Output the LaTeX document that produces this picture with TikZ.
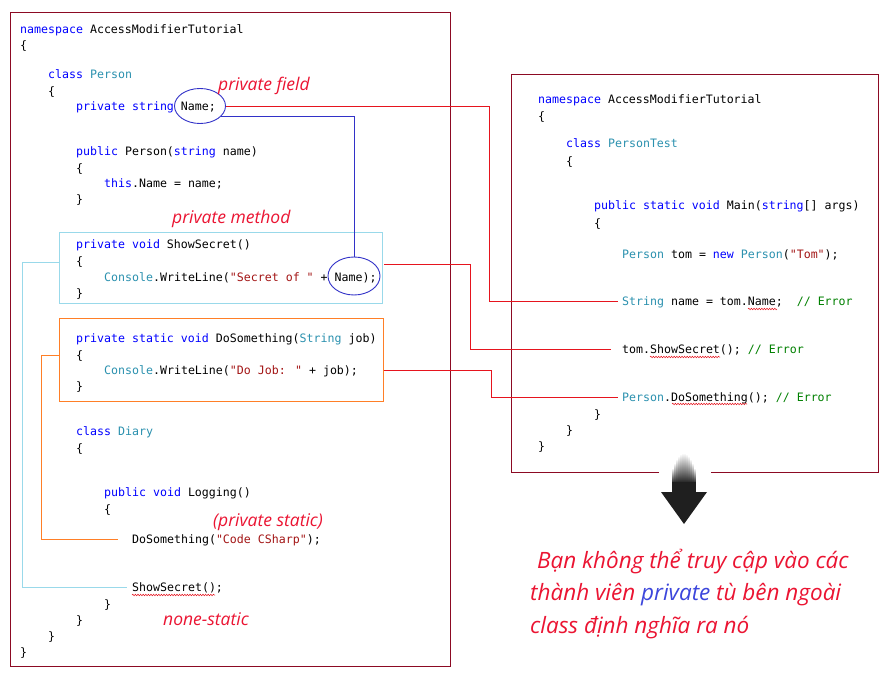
\documentclass[tikz,border=0pt]{standalone}
\usepackage{fontspec}
\usetikzlibrary{shapes.geometric,decorations.pathmorphing,calc}
\newfontfamily\codefont{DejaVu Sans Mono}
\newfontfamily\handfont{Open Sans}
\definecolor{framered}{RGB}{140,10,35}
\definecolor{linered}{RGB}{230,20,30}
\definecolor{eblue}{RGB}{50,50,200}
\definecolor{cyanbox}{RGB}{153,217,234}
\definecolor{orangebox}{RGB}{255,127,39}
\definecolor{annred}{RGB}{235,20,50}
\definecolor{pblue}{RGB}{60,70,220}
\definecolor{kwblue}{RGB}{0,0,255}
\definecolor{tyteal}{RGB}{43,145,175}
\definecolor{strred}{RGB}{163,21,21}
\definecolor{comgreen}{RGB}{0,128,0}
\newcommand\ckw[1]{\textcolor{kwblue}{#1}}
\newcommand\cty[1]{\textcolor{tyteal}{#1}}
\newcommand\cstr[1]{\textcolor{strred}{#1}}
\newcommand\ccom[1]{\textcolor{comgreen}{#1}}
\begin{document}
\begin{tikzpicture}[x=1pt,y=-1pt,
  code/.style={anchor=base west, inner sep=0pt, font=\codefont\fontsize{11.6}{14}\selectfont, text height=9pt, text depth=2.5pt},
  ann/.style={anchor=base west, inner sep=0pt, font=\handfont\itshape\fontsize{17.5}{20}\selectfont, text=annred},
  big/.style={anchor=base west, inner sep=0pt, font=\handfont\itshape\fontsize{22.5}{26}\selectfont, text=annred},
  frame/.style={draw=framered, line width=1pt},
  redline/.style={draw=linered, line width=0.9pt},
  blueline/.style={draw=eblue, line width=0.9pt},
  cyanline/.style={draw=cyanbox, line width=1pt},
  orangeline/.style={draw=orangebox, line width=1pt},
  squig/.style={draw=linered, line width=0.5pt, decorate, decoration={snake, amplitude=0.8pt, segment length=2.6pt}},
  oval/.style={draw=eblue, ellipse, line width=0.9pt, inner sep=0pt}
]
\useasboundingbox (0,0) rectangle (884,674);
\fill[white] (0,0) rectangle (884,674);

% frames
\draw[frame] (10,13) rectangle (450,666);
\draw[frame] (659,472) -- (511,472) -- (511,75) -- (878,75) -- (878,472) -- (711,472);

% boxes
\node[draw=cyanbox, line width=1pt, rectangle, minimum width=323pt, minimum height=71pt, inner sep=0pt] (bS) at (220.5,267.5) {};
\node[draw=orangebox, line width=1pt, rectangle, minimum width=324pt, minimum height=83pt, inner sep=0pt] (bD) at (221,359.5) {};

% left code
\node[code] (l1) at (20,34) {\ckw{namespace} AccessModifierTutorial};
\node[code] (l2) at (20,50) {\{};
\node[code] (l3) at (48,79) {\ckw{class} \cty{Person}};
\node[code] (l4) at (48,96) {\{};
\node[code] (l5) at (76,111) {\ckw{private} \ckw{string} Name;};
\node[code] (l6) at (76,156) {\ckw{public} Person(\ckw{string} name)};
\node[code] (l7) at (76,173) {\{};
\node[code] (l8) at (104,188) {\ckw{this}.Name = name;};
\node[code] (l9) at (76,204) {\}};
\node[code] (l10) at (76,248) {\ckw{private} \ckw{void} ShowSecret()};
\node[code] (l11) at (76,265) {\{};
\node[code] (l12) at (104,281) {\cty{Console}.WriteLine(\cstr{"Secret of "} + Name);};
\node[code] (l13) at (76,297) {\}};
\node[code] (l14) at (76,342) {\ckw{private} \ckw{static} \ckw{void} DoSomething(\cty{String} job)};
\node[code] (l15) at (76,359) {\{};
\node[code] (l16) at (104,374) {\cty{Console}.WriteLine(\cstr{"Do Job: "} + job);};
\node[code] (l17) at (76,390) {\}};
\node[code] (l18) at (76,435) {\ckw{class} \cty{Diary}};
\node[code] (l19) at (76,452) {\{};
\node[code] (l20) at (104,496) {\ckw{public} \ckw{void} Logging()};
\node[code] (l21) at (104,513) {\{};
\node[code] (l22) at (132,543) {DoSomething(\cstr{"Code CSharp"});};
\node[code] (l23) at (132,591) {ShowSecret();};
\node[code] (l24) at (104,608) {\}};
\node[code] (l25) at (76,624) {\}};
\node[code] (l26) at (48,640) {\}};
\node[code] (l27) at (20,656) {\}};

% right code
\node[code] (m1) at (538,104) {\ckw{namespace} AccessModifierTutorial};
\node[code] (m2) at (538,121) {\{};
\node[code] (m3) at (566,148) {\ckw{class} \cty{PersonTest}};
\node[code] (m4) at (566,166) {\{};
\node[code] (m5) at (594,209) {\ckw{public} \ckw{static} \ckw{void} Main(\ckw{string}[] args)};
\node[code] (m6) at (594,227) {\{};
\node[code] (m7) at (622,258) {\cty{Person} tom = \ckw{new} \cty{Person}(\cstr{"Tom"});};
\node[code] (m8) at (622,305) {\cty{String} name = tom.Name;\ \ \ccom{// Error}};
\node[code] (m9) at (622,353) {tom.ShowSecret(); \ccom{// Error}};
\node[code] (m10) at (622,401) {\cty{Person}.DoSomething(); \ccom{// Error}};
\node[code] (m11) at (594,418) {\}};
\node[code] (m12) at (566,434) {\}};
\node[code] (m13) at (538,450) {\}};

% squiggles
\draw[squig] (132,595) -- (215,595);
\draw[squig] (748,309) -- (777,309);
\draw[squig] (650,357) -- (720,357);
\draw[squig] (672,404) -- (747,404);

% ellipses
\node[oval, minimum width=51pt, minimum height=35pt] (e1) at (200,106) {};
\node[oval, minimum width=52pt, minimum height=38pt] (e2) at (354,276) {};

% annotations
\node[ann] (a1) at (218,91) {private field};
\node[ann] (a2) at (172,223) {private method};
\node[ann] (a3) at (213,526) {(private static)};
\node[ann] (a4) at (163,625) {none-static};

% junction coordinates
\coordinate (j1) at (489,0);
\coordinate (j2) at (470,0);
\coordinate (j3) at (491,0);
\coordinate (jc) at (22,0);
\coordinate (jo) at (41,0);

% connectors
\draw[blueline] (e1.-27) -| (e2.north);
\draw[redline] (e1.east) -| (j1 |- m8.west) -- ([xshift=-4pt]m8.west);
\draw[redline] ([xshift=9.5pt]e2.30) -| (j2 |- m9.west) -- ([xshift=-11pt]m9.west);
\draw[redline] ([yshift=-10.5pt]bD.east) -| (j3 |- m10.west) -- ([xshift=-4pt]m10.west);
\draw[cyanline] ([yshift=5.5pt]bS.west) -| (jc |- l23.west) -- ([xshift=-5pt]l23.west);
\draw[orangeline] ([yshift=4.5pt]bD.west) -| (jo |- l22.west) -- ([xshift=-14pt]l22.west);

% arrow
\foreach \i/\t in {0/468,1/463,2/459,3/456,4/454,5/453,6/453,7/454,8/456,9/459,10/463,11/468} {
  \shade[top color=white, bottom color=black!88] ({672+2*\i},\t) rectangle ({673.3+2*\i},483);
}
\fill[black!88] (672,482) rectangle (696,493);
\fill[black!88] (661,492) -- (707,492) -- (684,524) -- cycle;

% bottom text
\node[big] (t1) at (537,568) {Bạn không thể truy cập vào các};
\node[big] (t2) at (530,600) {thành viên \textcolor{pblue}{private} tù bên ngoài};
\node[big] (t3) at (530,633) {class định nghĩa ra nó};
\end{tikzpicture}
\end{document}
